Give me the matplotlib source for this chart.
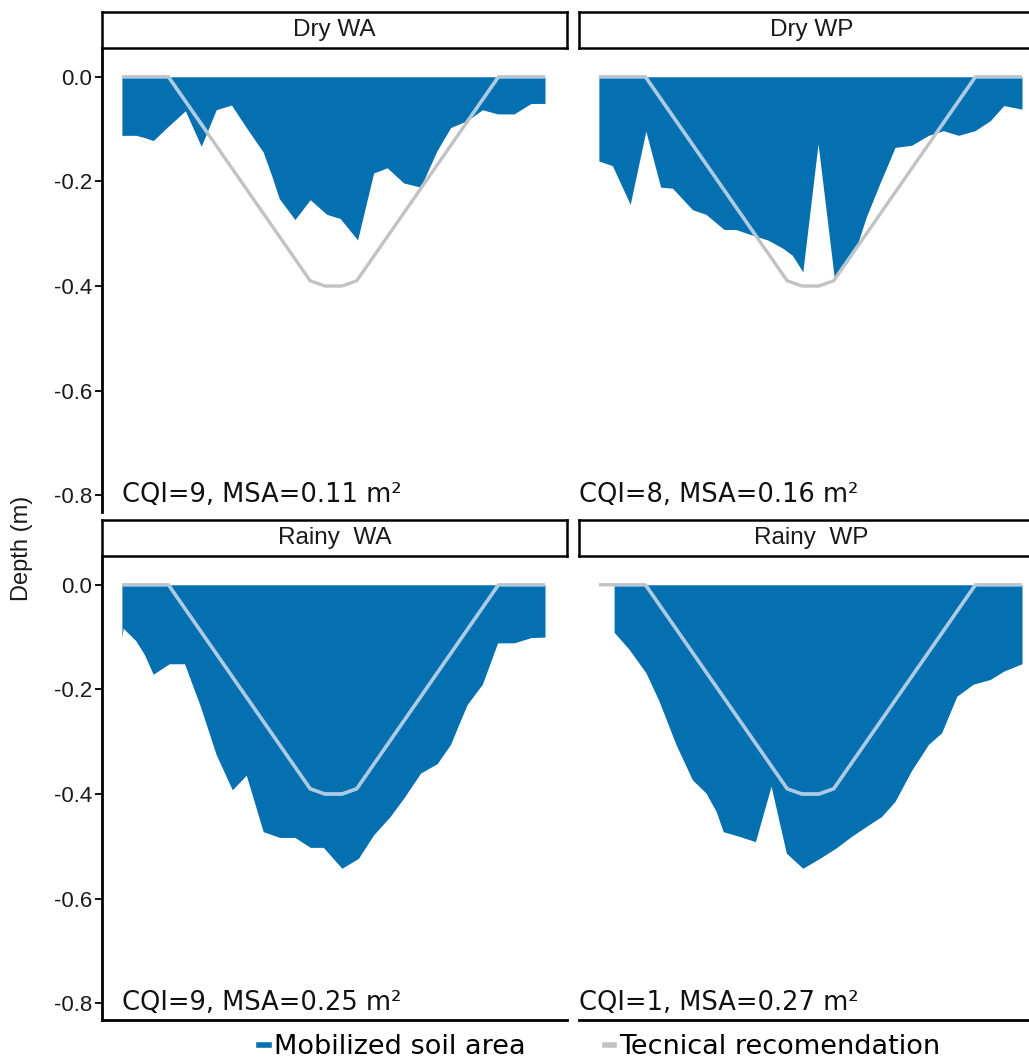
import matplotlib
matplotlib.use("Agg")
import matplotlib.pyplot as plt
from matplotlib.lines import Line2D

W, H = 1029, 1064

# technical recommendation profile, same furrow for every treatment
tech_x = [0, 11, 44.5, 48, 52, 55.5, 89, 100]
tech_depth = [0, 0, -0.39, -0.40, -0.40, -0.39, 0, 0]

# mobilized soil profiles (position across the furrow, depth in m)
dry_wa_x = [0, 3.3, 5.3, 7.4, 11.2, 15.0, 18.75, 22.3, 25.9, 29.4, 33.4, 35.4, 37.2, 40.9,
            44.5, 48.4, 51.6, 55.7, 59.5, 62.7, 66.6, 70.6, 74.5, 77.7, 81.6, 85.2, 88.8,
            92.7, 96.7, 100]
dry_wa_depth = [-0.112, -0.112, -0.116, -0.122, -0.093, -0.065, -0.133, -0.063, -0.054,
                -0.097, -0.144, -0.189, -0.233, -0.273, -0.235, -0.263, -0.271, -0.312,
                -0.184, -0.174, -0.203, -0.211, -0.141, -0.097, -0.084, -0.063, -0.071,
                -0.071, -0.051, -0.051]

dry_wp_x = [0, 3.2, 7.4, 11.1, 14.6, 17.4, 22.1, 25.3, 29.6, 32.4, 35.6, 39.9, 43.5, 45.7,
            48.2, 51.8, 55.6, 58.5, 60.9, 63.2, 66.4, 70.0, 73.9, 77.9, 81.4, 85.0, 88.9,
            92.5, 95.7, 100]
dry_wp_depth = [-0.161, -0.170, -0.244, -0.104, -0.211, -0.213, -0.254, -0.263, -0.292,
                -0.292, -0.301, -0.312, -0.328, -0.341, -0.373, -0.128, -0.382, -0.357,
                -0.325, -0.268, -0.204, -0.135, -0.131, -0.112, -0.103, -0.112, -0.103,
                -0.084, -0.055, -0.062]

rainy_wa_x = [0, 0.3, 3.3, 5.3, 7.4, 11.2, 14.8, 18.4, 22.3, 26.1, 29.4, 33.4, 37.3, 40.9,
              44.5, 47.6, 52.0, 55.9, 59.5, 63.4, 66.6, 70.6, 74.5, 77.7, 79.3, 81.6, 85.2,
              88.8, 92.7, 96.7, 100]
rainy_wa_depth = [-0.101, -0.083, -0.107, -0.133, -0.171, -0.151, -0.151, -0.229, -0.325,
                  -0.392, -0.364, -0.472, -0.483, -0.483, -0.502, -0.502, -0.542, -0.523,
                  -0.478, -0.443, -0.408, -0.360, -0.342, -0.305, -0.273, -0.229, -0.190,
                  -0.111, -0.111, -0.101, -0.100]

rainy_wp_x = [3.6, 7.1, 11.1, 14.2, 18.2, 22.1, 25.3, 27.7, 29.4, 33.2, 37.0, 40.7, 44.3,
              48.2, 52.2, 56.1, 59.7, 63.2, 66.8, 70.0, 73.9, 77.9, 81.0, 84.6, 88.5, 92.5,
              95.7, 100]
rainy_wp_depth = [-0.091, -0.123, -0.168, -0.222, -0.305, -0.373, -0.398, -0.433, -0.472,
                  -0.481, -0.491, -0.385, -0.513, -0.542, -0.523, -0.503, -0.481, -0.462,
                  -0.443, -0.414, -0.355, -0.305, -0.283, -0.213, -0.190, -0.181, -0.165,
                  -0.151]

titles = ["Dry WA", "Dry WP", "Rainy  WA", "Rainy  WP"]
cqi = [9, 8, 9, 1]
msa = [0.11, 0.16, 0.25, 0.27]
profiles = [(dry_wa_x, dry_wa_depth), (dry_wp_x, dry_wp_depth),
            (rainy_wa_x, rainy_wa_depth), (rainy_wp_x, rainy_wp_depth)]

blue = "#0570b0"
grey = "#c2c2c2"
grey_on_blue = "#a9cbe6"
sans = "Liberation Sans"
verd = "DejaVu Sans"


def box(x0, y0, x1, y1):
    # pixel box -> figure fraction rect
    return [x0 / W, 1 - y1 / H, (x1 - x0) / W, (y1 - y0) / H]


fig = plt.figure(figsize=(W / 100, H / 100), dpi=100)

cols = [(102, 567), (579, 1044)]
rows = [(12, 48, 512), (520, 556, 1020)]
label_x = [0, -4.6]

for i, (px, dep) in enumerate(profiles):
    r, c = divmod(i, 2)
    x0, x1 = cols[c]
    s0, a0, a1 = rows[r]

    ax = fig.add_axes(box(x0, a0, x1, a1))
    poly = ax.fill_between(px, dep, 0, color=blue, lw=0)
    ax.plot(tech_x, tech_depth, color=grey, lw=2.4, solid_capstyle="butt")
    ln, = ax.plot(tech_x, tech_depth, color=grey_on_blue, lw=2.4)
    ln.set_clip_path(poly.get_paths()[0], ax.transData)

    ax.text(label_x[c], -0.80, f"CQI={cqi[i]}, MSA={msa[i]:.2f} m²", family=verd,
            fontsize=18.5, va="center", ha="left", color="#111111")

    ax.set_xlim(-4.7, 105.2)
    ax.set_ylim(-0.832, 0.055)
    ax.set_yticks([0.0, -0.2, -0.4, -0.6, -0.8])
    ax.set_yticklabels(["0.0", "-0.2", "-0.4", "-0.6", "-0.8"])
    ax.set_xticks([])
    for sp in ["top", "right"]:
        ax.spines[sp].set_visible(False)
    ax.spines["left"].set_linewidth(2)
    ax.spines["bottom"].set_linewidth(2)
    if c == 1:
        ax.spines["left"].set_visible(False)
        ax.tick_params(axis="y", left=False, labelleft=False)
    if r == 0:
        ax.spines["bottom"].set_visible(False)
    ax.tick_params(axis="y", length=5, width=1.3, labelsize=16, pad=2, labelcolor="#1a1a1a")
    for lab in ax.get_yticklabels():
        lab.set_family(sans)

    # facet strip
    st = fig.add_axes(box(x0, s0, x1, a0))
    st.set_xticks([])
    st.set_yticks([])
    for sp in st.spines.values():
        sp.set_linewidth(1.8)
    st.text(0.5, 0.5, titles[i], transform=st.transAxes, ha="center", va="center",
            family=sans, fontsize=17.5, color="#1a1a1a")

fig.text(22 / W, 1 - 548 / H, "Depth (m)", rotation=90, ha="center", va="center",
         family=sans, fontsize=17, color="#1a1a1a")

handles = [Line2D([], [], color=blue, lw=4), Line2D([], [], color=grey, lw=4)]
fig.legend(handles, ["Mobilized soil area", "Tecnical recomendation"], loc="center",
           bbox_to_anchor=(600 / W, 1 - 1047 / H), ncol=2, frameon=False,
           handlelength=0.35, handletextpad=0.2, columnspacing=2.9,
           prop={"family": verd, "size": 19.5})

fig.savefig("out.png", dpi=100)
